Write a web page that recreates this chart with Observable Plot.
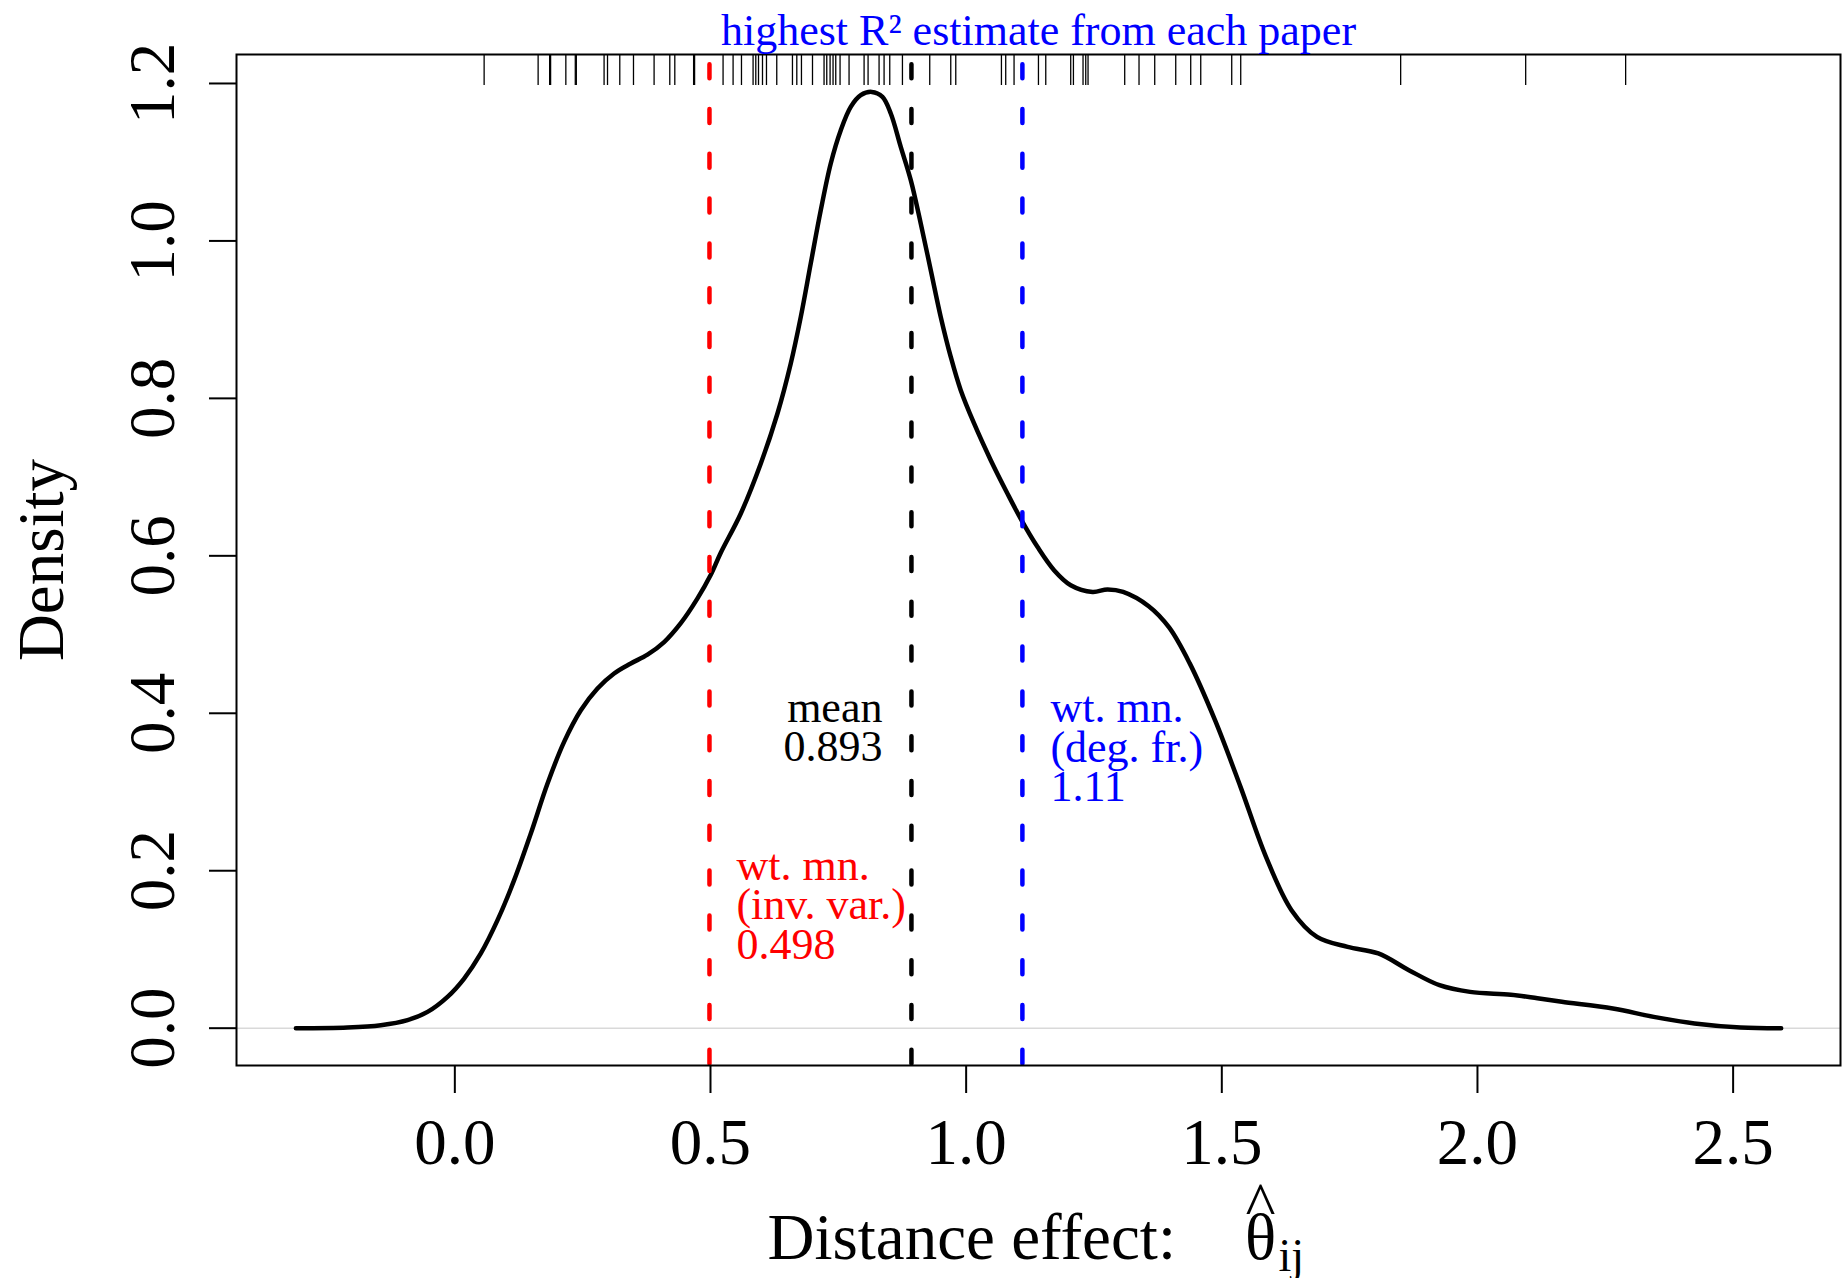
<!DOCTYPE html>
<html>
<head>
<meta charset="utf-8">
<script src="https://cdn.jsdelivr.net/npm/d3@7"></script>
<script src="https://cdn.jsdelivr.net/npm/@observablehq/plot@0.6"></script>
<style>
html, body { margin: 0; padding: 0; background: #fff; }
#chart svg { display: block; }
</style>
</head>
<body>
<div id="chart"></div>
<script>
// ---- data ----
const densityX = [-0.3109, -0.2098, -0.1447, -0.0925, -0.0534, -0.0143, 0.0182, 0.0508, 0.0835, 0.1160,
  0.1486, 0.1813, 0.2137, 0.2464, 0.2790, 0.3115, 0.3442, 0.3768, 0.4093, 0.4419,
  0.4746, 0.5006, 0.5201, 0.5593, 0.5984, 0.6310, 0.6570, 0.6766, 0.6961, 0.7157,
  0.7352, 0.7548, 0.7743, 0.7939, 0.8154, 0.8363, 0.8526, 0.8721, 0.8917, 0.9112,
  0.9308, 0.9503, 0.9699, 0.9894, 1.0155, 1.0481, 1.0807, 1.1101, 1.1394, 1.1719,
  1.2045, 1.2472, 1.2763, 1.3070, 1.3571, 1.3969, 1.4368, 1.4867, 1.5366, 1.5864,
  1.6363, 1.6862, 1.7460, 1.8060, 1.8659, 1.9257, 1.9855, 2.0653, 2.1173, 2.1650,
  2.2648, 2.3447, 2.4245, 2.5143, 2.5940];
const densityY = [0.0000, 0.0009, 0.0038, 0.0102, 0.0207, 0.0398, 0.0631, 0.0949, 0.1372, 0.1880,
  0.2473, 0.3108, 0.3637, 0.4039, 0.4315, 0.4506, 0.4633, 0.4745, 0.4905, 0.5145,
  0.5460, 0.5760, 0.6040, 0.6538, 0.7173, 0.7808, 0.8443, 0.9035, 0.9714, 1.0391,
  1.0984, 1.1407, 1.1703, 1.1851, 1.1893, 1.1830, 1.1619, 1.1195, 1.0772, 1.0222,
  0.9628, 0.9035, 0.8527, 0.8104, 0.7681, 0.7215, 0.6792, 0.6431, 0.6114, 0.5818,
  0.5627, 0.5542, 0.5573, 0.5542, 0.5360, 0.5090, 0.4640, 0.3912, 0.3065, 0.2176,
  0.1499, 0.1160, 0.1033, 0.0949, 0.0737, 0.0546, 0.0461, 0.0425, 0.0380, 0.0335,
  0.0250, 0.0144, 0.0060, 0.0009, 0.0000];

const rugValues = [0.0573, 0.1629, 0.1854, 0.1873, 0.2171, 0.2356, 0.2376, 0.2919, 0.2986, 0.3226,
  0.3494, 0.3897, 0.4204, 0.4302, 0.4670, 0.4689, 0.5246, 0.5442, 0.5606, 0.5833,
  0.5886, 0.5939, 0.6017, 0.6095, 0.6296, 0.6603, 0.6688, 0.6779, 0.6995, 0.7221,
  0.7274, 0.7339, 0.7397, 0.7450, 0.7534, 0.7710, 0.8004, 0.8082, 0.8297, 0.8395,
  0.8506, 0.8754, 0.9288, 0.9699, 0.9797, 1.0690, 1.0774, 1.0937, 1.1414, 1.1557,
  1.2045, 1.2098, 1.2286, 1.2339, 1.2384, 1.3101, 1.3381, 1.3688, 1.4099, 1.4392,
  1.4588, 1.5194, 1.5370, 1.8498, 2.0943, 2.2898];

const refNames  = ["mean", "wt. mn.\n(inv. var.)", "wt. mn.\n(deg. fr.)"];
const refValues = [0.893, 0.498, 1.11];
const refColors = ["#000000", "#ff0000", "#0000ff"];
const refLabelY = [0.3392, 0.0885, 0.2887];   // where each label's last line sits

const xTicks = [0, 0.5, 1, 1.5, 2, 2.5];
const yTicks = [0, 0.2, 0.4, 0.6, 0.8, 1.0, 1.2];

const titleText = "highest R\u00B2 estimate from each paper";
const xLabel = "Distance effect:";
const xSymbol = "\u03B8";
const xHat = "^";
const xSub = "ij";
const yLabel = "Density";

// ---- build tables ----
const curve = densityX.map((x, i) => ({x, y: densityY[i]}));
const refs = refValues.map((v, i) => ({value: v, name: refNames[i], color: refColors[i], ly: refLabelY[i]}));

const serif = "'Liberation Serif', 'Times New Roman', serif";
const dash = {strokeWidth: 4.5, strokeDasharray: "14,30.8", strokeDashoffset: 34.6, strokeLinecap: "round"};

const refMarks = refs.map(r => Plot.ruleX([r.value], {x: d => d, stroke: r.color, ...dash}));

const labelMarks = [
  Plot.text([refs[0]], {x: "value", y: "ly", text: d => d.name + "\n" + d.value.toFixed(3),
    textAnchor: "end", lineAnchor: "bottom", lineHeight: 0.893, fontSize: 44, dx: -29, fill: refs[0].color}),
  Plot.text([refs[1]], {x: "value", y: "ly", text: d => d.name + "\n" + d.value.toFixed(3),
    textAnchor: "start", lineAnchor: "bottom", lineHeight: 0.893, fontSize: 44, dx: 27, fill: refs[1].color}),
  Plot.text([refs[2]], {x: "value", y: "ly", text: d => d.name + "\n" + d.value.toFixed(2),
    textAnchor: "start", lineAnchor: "bottom", lineHeight: 0.893, fontSize: 44, dx: 28, fill: refs[2].color})
];

const chart = Plot.plot({
  width: 1846,
  height: 1278,
  marginTop: 54,
  marginRight: 6,
  marginBottom: 213,
  marginLeft: 236,
  style: {fontFamily: serif, background: "#fff", color: "#000", overflow: "visible"},
  x: {domain: [-0.427, 2.710], label: null},
  y: {domain: [-0.0474, 1.2368], label: null},
  marks: [
    Plot.ruleY([0], {y: d => d, stroke: "#d9d9d9", strokeWidth: 1.5}),
    Plot.line(curve, {x: "x", y: "y", stroke: "#000", strokeWidth: 4.5, curve: "catmull-rom",
      strokeLinejoin: "round", strokeLinecap: "round"}),
    Plot.tickX(rugValues, {x: d => d, stroke: "#000", strokeWidth: 1.3, insetBottom: 980}),
    ...refMarks,
    Plot.frame({stroke: "#000", strokeWidth: 2}),
    Plot.axisX({ticks: xTicks, tickSize: 28, tickPadding: 24, tickFormat: d => d.toFixed(1),
      fontSize: 65, strokeWidth: 2}),
    Plot.axisY({ticks: yTicks, tickSize: 27, tickPadding: 36, tickRotate: -90, textAnchor: "middle",
      lineAnchor: "bottom", tickFormat: d => d.toFixed(1), fontSize: 65, strokeWidth: 2}),
    ...labelMarks,
    Plot.text([titleText], {text: d => d, frameAnchor: "top", dy: -10, lineAnchor: "bottom",
      fontSize: 44, fill: "#0000ff"}),
    Plot.text([yLabel], {text: d => d, frameAnchor: "left", dx: -174, rotate: -90,
      textAnchor: "middle", lineAnchor: "bottom", fontSize: 65}),
    Plot.text([xLabel], {text: d => d, frameAnchor: "bottom", dx: -271, dy: 193,
      textAnchor: "start", lineAnchor: "bottom", fontSize: 65}),
    Plot.text([xSymbol], {text: d => d, frameAnchor: "bottom", dx: 222, dy: 193,
      textAnchor: "middle", lineAnchor: "bottom", fontSize: 65}),
    Plot.text([xHat], {text: d => d, frameAnchor: "bottom", dx: 222, dy: 160,
      textAnchor: "middle", lineAnchor: "bottom", fontSize: 64}),
    Plot.text([xSub], {text: d => d, frameAnchor: "bottom", dx: 240, dy: 205,
      textAnchor: "start", lineAnchor: "bottom", fontSize: 46})
  ]
});

document.getElementById("chart").appendChild(chart);
</script>
</body>
</html>
